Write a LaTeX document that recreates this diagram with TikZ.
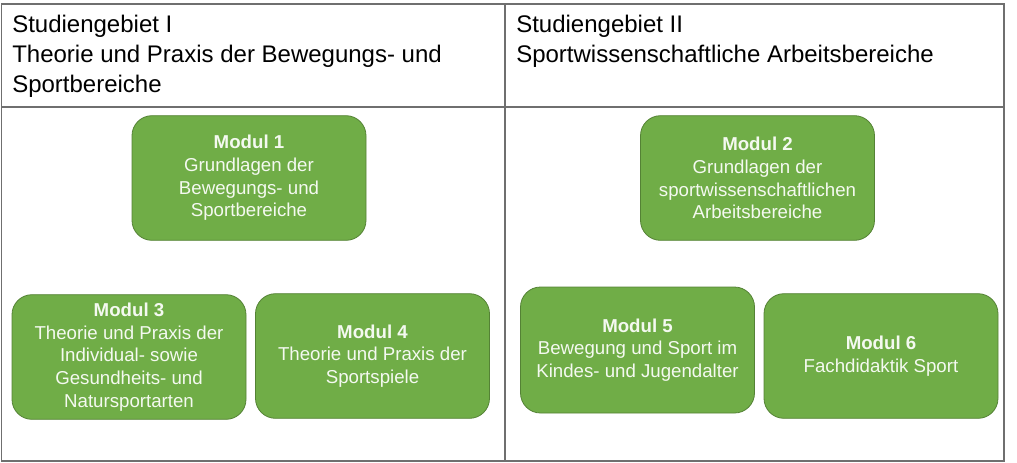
\documentclass[tikz,border=0pt]{standalone}
\usepackage{fontspec}
\setmainfont{Liberation Sans}
\usetikzlibrary{positioning}
\definecolor{mgreen}{HTML}{70AD47}
\definecolor{mgreenb}{HTML}{548235}
\definecolor{mgrey}{HTML}{6F6F6F}
\definecolor{mtext}{HTML}{F4F9F0}
\tikzstyle{l1}=[line width=1pt, draw=mgrey]
\tikzstyle{hnode}=[anchor=north west, align=left, inner sep=0pt, font=\fontsize{18}{22.5}\selectfont]
\tikzstyle{mnode}=[rectangle, rounded corners=15pt, draw=mgreenb, fill=mgreen, line width=0.6pt, text=mtext, align=center, inner sep=0pt, minimum width=175.5pt, minimum height=93.5pt, font=\fontsize{14}{17}\selectfont]

\begin{document}
\begin{tikzpicture}[x=0.75pt, y=-0.75pt]
    \useasboundingbox (0,0) rectangle (1017,462);
    % table
    \draw[l1] (1.5,4) rectangle (1004,461);
    \draw[l1] (505,4) -- (505,461);
    \draw[l1] (1.5,107) -- (1004,107);

    \node[hnode] at (12,15) (h1) {Studiengebiet I\\Theorie und Praxis der Bewegungs- und\\Sportbereiche};
    \node[hnode] at (516,15) (h2) {Studiengebiet II\\Sportwissenschaftliche Arbeitsbereiche};

    % Studiengebiet I
    \node[mnode] at (249,178) (m1) {\textbf{Modul 1}\\Grundlagen der\\Bewegungs- und\\Sportbereiche};
    \node[mnode] at (129,357) (m3) {\textbf{Modul 3}\\Theorie und Praxis der\\Individual- sowie\\Gesundheits- und\\Natursportarten};
    \node[mnode] at (372.5,356) (m4) {\textbf{Modul 4}\\Theorie und Praxis der\\Sportspiele};

    % Studiengebiet II
    \node[mnode] at (757.5,178) (m2) {\textbf{Modul 2}\\Grundlagen der\\sportwissenschaftlichen\\Arbeitsbereiche};
    \node[mnode, minimum height=94.5pt] at (637.5,350) (m5) {\textbf{Modul 5}\\Bewegung und Sport im\\Kindes- und Jugendalter};
    \node[mnode] at (881,356) (m6) {\textbf{Modul 6}\\Fachdidaktik Sport};
\end{tikzpicture}
\end{document}
